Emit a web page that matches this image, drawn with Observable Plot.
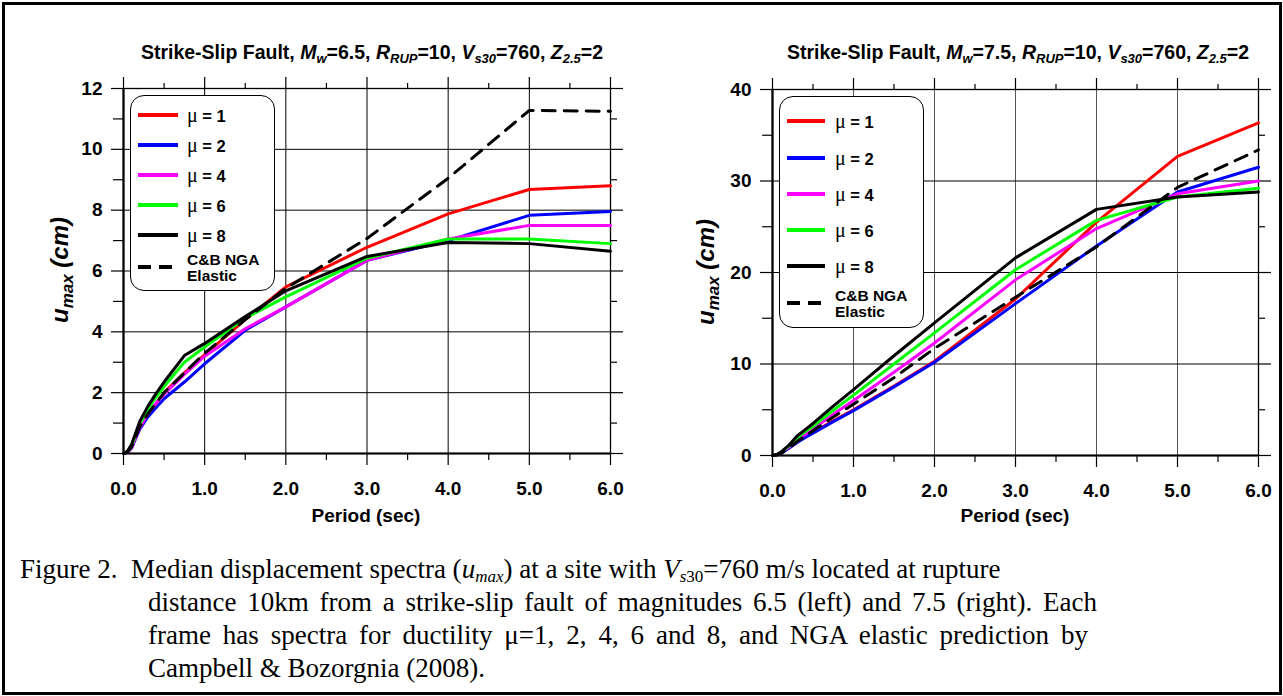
<!DOCTYPE html>
<html><head><meta charset="utf-8">
<script src="https://cdn.jsdelivr.net/npm/d3@7"></script>
<script src="https://cdn.jsdelivr.net/npm/@observablehq/plot@0.6"></script>
<style>
body{margin:0;background:#fff;}
#page{position:relative;width:1283px;height:696px;overflow:hidden;font-family:"Liberation Sans",Arial,sans-serif;background:#fff;}
.border{position:absolute;left:2px;top:2px;width:1274px;height:687px;border:3px solid #000;}
.chart{position:absolute;top:70px;}
.title{position:absolute;top:39px;font-weight:bold;font-size:19.5px;white-space:nowrap;transform:translateX(-50%);line-height:26px;}
.title sub{font-size:13px;vertical-align:-4px;line-height:0;}
.xlab{position:absolute;top:505px;font-weight:bold;font-size:19px;white-space:nowrap;transform:translateX(-50%);}
.ylab{position:absolute;font-weight:bold;font-style:italic;font-size:24px;white-space:nowrap;transform:translate(-50%,-50%) rotate(-90deg);}
.ylab sub{font-size:17px;vertical-align:-5px;line-height:0;}
.legend{position:absolute;border:1px solid #000;border-radius:14px;background:#fff;}
.row{position:absolute;left:0;height:0;}
.row svg{position:absolute;top:-4px;}
.row .lt{position:absolute;top:-11px;font-weight:bold;font-size:16.5px;white-space:nowrap;line-height:22px;}
.row .mu{font-family:"Liberation Serif","DejaVu Serif",serif;font-weight:normal;font-size:20px;}
.row .lt2{position:absolute;font-weight:bold;font-size:15.5px;line-height:16px;white-space:nowrap;top:-15px;}
.caption{position:absolute;font-family:"Liberation Serif","Times New Roman",serif;font-size:27px;line-height:33px;white-space:nowrap;}
.caption.j{text-align:justify;text-align-last:justify;}
.caption sub{font-size:17px;vertical-align:-4px;line-height:0;}
</style></head>
<body><div id="page"></div>
<script>
// ---- data ----
const periods = [0, 0.05, 0.1, 0.2, 0.3, 0.4, 0.5, 0.75, 1.0, 1.5, 2.0, 3.0, 4.0, 5.0, 6.0];

// Left frame: Mw = 6.5
const m65_mu1 = [0, 0.05, 0.2, 0.85, 1.3, 1.62, 2.0, 2.65, 3.25, 4.4, 5.48, 6.78, 7.88, 8.68, 8.8];
const m65_mu2 = [0, 0.04, 0.18, 0.8, 1.2, 1.5, 1.8, 2.35, 2.95, 4.05, 4.82, 6.35, 7.0, 7.83, 7.96];
const m65_mu4 = [0, 0.05, 0.2, 0.85, 1.3, 1.65, 1.95, 2.6, 3.2, 4.1, 4.82, 6.35, 7.05, 7.5, 7.5];
const m65_mu6 = [0, 0.06, 0.25, 0.95, 1.45, 1.85, 2.2, 3.0, 3.5, 4.45, 5.15, 6.42, 7.05, 7.05, 6.9];
const m65_mu8 = [0, 0.08, 0.3, 1.05, 1.55, 1.97, 2.35, 3.22, 3.62, 4.5, 5.35, 6.48, 6.94, 6.9, 6.65];
const m65_elastic = [0, 0.05, 0.22, 0.88, 1.3, 1.65, 2.0, 2.65, 3.3, 4.4, 5.43, 7.07, 9.05, 11.28, 11.25];

// Right frame: Mw = 7.5
const m75_mu1 = [0, 0.05, 0.2, 0.8, 1.45, 2.0, 2.5, 3.8, 5.0, 7.6, 10.3, 17.1, 25.5, 32.7, 36.35];
const m75_mu2 = [0, 0.05, 0.2, 0.8, 1.4, 1.95, 2.45, 3.7, 4.9, 7.5, 10.2, 16.6, 22.9, 28.8, 31.5];
const m75_mu4 = [0, 0.07, 0.25, 0.9, 1.7, 2.3, 2.9, 4.5, 6.0, 9.1, 12.3, 19.2, 24.8, 28.6, 30.0];
const m75_mu6 = [0, 0.08, 0.3, 1.0, 1.9, 2.6, 3.2, 4.95, 6.6, 10.0, 13.4, 20.3, 25.7, 28.25, 29.2];
const m75_mu8 = [0, 0.1, 0.35, 1.1, 2.1, 2.8, 3.5, 5.4, 7.2, 10.9, 14.5, 21.6, 26.9, 28.25, 28.8];
const m75_elastic = [0, 0.05, 0.2, 0.8, 1.5, 2.1, 2.7, 4.2, 5.6, 8.5, 11.7, 17.3, 22.8, 29.3, 33.4];

const seriesNames = ["1", "2", "4", "6", "8"];
const seriesColors = ["#ff0000", "#0000ff", "#ff00ff", "#00ff00", "#000000"];

const xMajor = [0, 1, 2, 3, 4, 5, 6];
const xMinor = [0.5, 1.5, 2.5, 3.5, 4.5, 5.5];
const leftYMajor = [0, 2, 4, 6, 8, 10, 12];
const leftYMinor = [1, 3, 5, 7, 9, 11];
const rightYMajor = [0, 10, 20, 30, 40];
const rightYMinor = [5, 15, 25, 35];

// ---- build ----
const page = document.getElementById("page");
const toRows = vals => periods.map((p, i) => ({period: p, u: vals[i]}));
const blank = () => "";

function makeChart(cfg) {
  const lineMarks = cfg.mus.map((vals, i) =>
    Plot.line(toRows(vals), {x: "period", y: "u", stroke: seriesColors[i], strokeWidth: 3, strokeLinejoin: "round"}));
  lineMarks.push(Plot.line(toRows(cfg.elastic), {x: "period", y: "u", stroke: "#000", strokeWidth: 3, strokeDasharray: "13,9"}));
  return Plot.plot({
    width: cfg.width, height: 470,
    marginLeft: cfg.ml, marginRight: cfg.mr, marginTop: cfg.mt, marginBottom: cfg.mb,
    x: {domain: [0, 6], nice: false},
    y: {domain: cfg.ydomain, nice: false},
    style: {fontFamily: "'Liberation Sans', Arial, sans-serif", fontSize: "19px", fontWeight: "bold", overflow: "visible", background: "transparent", color: "#000"},
    marks: [
      Plot.gridX(xMajor, {stroke: cfg.vgrid, strokeOpacity: 1, strokeWidth: 1}),
      Plot.gridY(cfg.yMajor, {stroke: "#000", strokeOpacity: 1, strokeWidth: 1}),
      Plot.axisX(xMajor, {anchor: "bottom", tickSize: 12, tickPadding: 16, tickFormat: d3.format(".1f"), label: null, strokeWidth: 1.2}),
      Plot.axisX(xMajor, {anchor: "top", tickSize: 12, tickFormat: blank, label: null, strokeWidth: 1.2}),
      Plot.axisX(xMinor, {anchor: "bottom", tickSize: 7, tickFormat: blank, label: null, strokeWidth: 1.2}),
      Plot.axisX(xMinor, {anchor: "top", tickSize: 6, tickFormat: blank, label: null, strokeWidth: 1.2}),
      Plot.axisY(cfg.yMajor, {anchor: "left", tickSize: 12, tickPadding: 9, tickFormat: d3.format("d"), label: null, strokeWidth: 1.2}),
      Plot.axisY(cfg.yMajor, {anchor: "right", tickSize: 12, tickFormat: blank, label: null, strokeWidth: 1.2}),
      Plot.axisY(cfg.yMinor, {anchor: "left", tickSize: 10, tickFormat: blank, label: null, strokeWidth: 1.2}),
      Plot.axisY(cfg.yMinor, {anchor: "right", tickSize: 6, tickFormat: blank, label: null, strokeWidth: 1.2}),
      Plot.frame({stroke: "#000", strokeWidth: 1.3}),
      Plot.ruleX([0], {stroke: "#000", strokeWidth: 2.2}),
      Plot.ruleY([0], {stroke: "#000", strokeWidth: 2.2}),
      ...lineMarks
    ]
  });
}

function addEl(html, cls, style) {
  const d = document.createElement("div");
  d.className = cls;
  Object.assign(d.style, style);
  d.innerHTML = html;
  page.appendChild(d);
  return d;
}

function sample(color, w, dashed) {
  return `<svg width="${w}" height="8" style="left:7px"><line x1="0" y1="4" x2="${w}" y2="4" stroke="${color}" stroke-width="4" ${dashed ? 'stroke-dasharray="13,8"' : ''}/></svg>`;
}

function addLegend(box, rowsY, sw, textX) {
  const lg = addEl("", "legend", {left: box[0] + "px", top: box[1] + "px", width: box[2] + "px", height: box[3] + "px"});
  seriesNames.forEach((name, i) => {
    const r = document.createElement("div");
    r.className = "row";
    r.style.top = rowsY[i] + "px";
    r.innerHTML = sample(seriesColors[i], sw, false) +
      `<span class="lt" style="left:${textX}px"><span class="mu">\u03bc</span> = ${name}</span>`;
    lg.appendChild(r);
  });
  const r = document.createElement("div");
  r.className = "row";
  r.style.top = rowsY[5] + "px";
  r.innerHTML = sample("#000", sw, true) + `<span class="lt2" style="left:${textX}px">C&amp;B NGA<br>Elastic</span>`;
  lg.appendChild(r);
}

addEl("", "border", {});

const left = makeChart({width: 640, ml: 123, mr: 30, mt: 18, mb: 87, ydomain: [0, 12],
  yMajor: leftYMajor, yMinor: leftYMinor, vgrid: "#000",
  mus: [m65_mu1, m65_mu2, m65_mu4, m65_mu6, m65_mu8], elastic: m65_elastic});
const lw = document.createElement("div"); lw.className = "chart"; lw.style.left = "0px"; lw.appendChild(left); page.appendChild(lw);

const right = makeChart({width: 643, ml: 132, mr: 25, mt: 19, mb: 85, ydomain: [0, 40],
  yMajor: rightYMajor, yMinor: rightYMinor, vgrid: "#555",
  mus: [m75_mu1, m75_mu2, m75_mu4, m75_mu6, m75_mu8], elastic: m75_elastic});
const rw = document.createElement("div"); rw.className = "chart"; rw.style.left = "640px"; rw.appendChild(right); page.appendChild(rw);

addEl("Strike-Slip Fault, <i>M<sub>w</sub></i>=6.5, <i>R<sub>RUP</sub></i>=10, <i>V<sub>s30</sub></i>=760, <i>Z<sub>2.5</sub></i>=2", "title", {left: "372px"});
addEl("Strike-Slip Fault, <i>M<sub>w</sub></i>=7.5, <i>R<sub>RUP</sub></i>=10, <i>V<sub>s30</sub></i>=760, <i>Z<sub>2.5</sub></i>=2", "title", {left: "1018px"});
addEl("Period (sec)", "xlab", {left: "366px"});
addEl("Period (sec)", "xlab", {left: "1015px"});
addEl("u<sub>max</sub> (cm)", "ylab", {left: "60px", top: "270px"});
addEl("u<sub>max</sub> (cm)", "ylab", {left: "706px", top: "272px"});

addLegend([130, 95, 143, 194], [19, 49, 79, 109, 139, 171], 40, 56);
addLegend([779, 96, 143, 230], [24, 61, 97, 133, 169, 206], 38, 55);

addEl("Figure 2.&nbsp; Median displacement spectra (<i>u<sub>max</sub></i>) at a site with <i>V<sub>s</sub></i><sub>30</sub>=760 m/s located at rupture", "caption", {left: "20px", top: "553px"});
addEl("distance 10km from a strike-slip fault of magnitudes 6.5 (left) and 7.5 (right). Each", "caption j", {left: "148px", top: "586px", width: "949px"});
addEl("frame has spectra for ductility \u03bc=1, 2, 4, 6 and 8, and NGA elastic prediction by", "caption j", {left: "148px", top: "619px", width: "940px"});
addEl("Campbell &amp; Bozorgnia (2008).", "caption", {left: "148px", top: "652px"});
</script>
</body></html>
